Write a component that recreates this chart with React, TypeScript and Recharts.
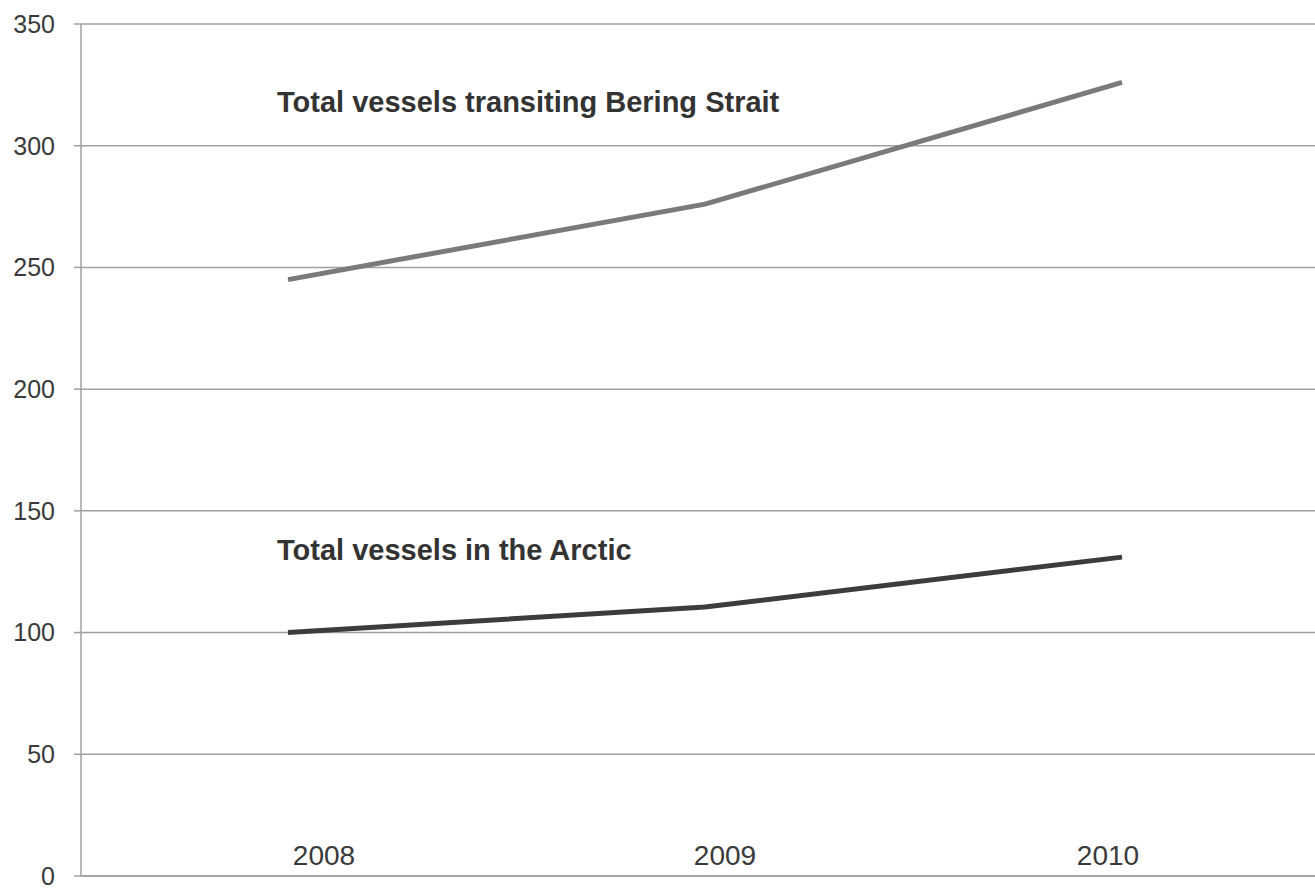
import React from 'react';
import { LineChart, Line, XAxis, YAxis, CartesianGrid, ReferenceDot } from 'recharts';

const years = ['2008', '2009', '2010'];
const beringStrait = [245, 276, 326];
const arcticTotal = [100, 110.5, 131];
const yTicks = [0, 50, 100, 150, 200, 250, 300, 350];

const data = years.map((year, i) => ({
  year,
  bering: beringStrait[i],
  arctic: arcticTotal[i],
}));

const FONT = '"Liberation Sans", Arial, sans-serif';
const GRID = '#a0a0a0';

// year labels sit inside the plot, just above the baseline
const yearNudge = [36, 20, -14];

const YearTick = (props: any) => {
  const { x, y, payload, index } = props;
  return (
    <text
      x={x + (yearNudge[index] ?? 0)}
      y={y - 11}
      textAnchor="middle"
      fontFamily={FONT}
      fontSize={28}
      fill="#3a3a3a"
    >
      {payload.value}
    </text>
  );
};

const SeriesLabel = (text: string) => (props: any) => {
  const { viewBox } = props;
  return (
    <text
      x={viewBox.x - 11}
      y={viewBox.y}
      fontFamily={FONT}
      fontSize={29}
      fontWeight="bold"
      fill="#333"
    >
      {text}
    </text>
  );
};

const App: React.FC = () => {
  return (
    <div
      style={{
        position: 'absolute',
        left: 0,
        top: 0,
        width: 1315,
        height: 888,
        overflow: 'hidden',
        background: '#fff',
      }}
    >
      <LineChart
        width={1315}
        height={888}
        data={data}
        margin={{ top: 24, right: 0, bottom: 0, left: 0 }}
      >
        <CartesianGrid vertical={false} stroke={GRID} strokeWidth={1.5} />
        <XAxis
          dataKey="year"
          height={12}
          padding={{ left: 207, right: 193 }}
          axisLine={{ stroke: GRID, strokeWidth: 1.5 }}
          tickLine={false}
          tickSize={0}
          tickMargin={0}
          tick={<YearTick />}
          interval={0}
        />
        <YAxis
          domain={[0, 350]}
          ticks={yTicks}
          width={81}
          axisLine={{ stroke: GRID, strokeWidth: 1.5 }}
          tickLine={{ stroke: GRID, strokeWidth: 1.5 }}
          tickSize={7}
          tickMargin={19}
          tick={{ fontFamily: FONT, fontSize: 25, fill: '#3a3a3a' }}
          interval={0}
        />
        <Line
          type="linear"
          dataKey="bering"
          stroke="#7a7a7a"
          strokeWidth={5}
          dot={false}
          isAnimationActive={false}
        />
        <Line
          type="linear"
          dataKey="arctic"
          stroke="#3c3c3c"
          strokeWidth={5}
          dot={false}
          isAnimationActive={false}
        />
        <ReferenceDot
          x="2008"
          y={314}
          r={0}
          stroke="none"
          label={SeriesLabel('Total vessels transiting Bering Strait')}
        />
        <ReferenceDot
          x="2008"
          y={130}
          r={0}
          stroke="none"
          label={SeriesLabel('Total vessels in the Arctic')}
        />
      </LineChart>
    </div>
  );
};

export default App;
